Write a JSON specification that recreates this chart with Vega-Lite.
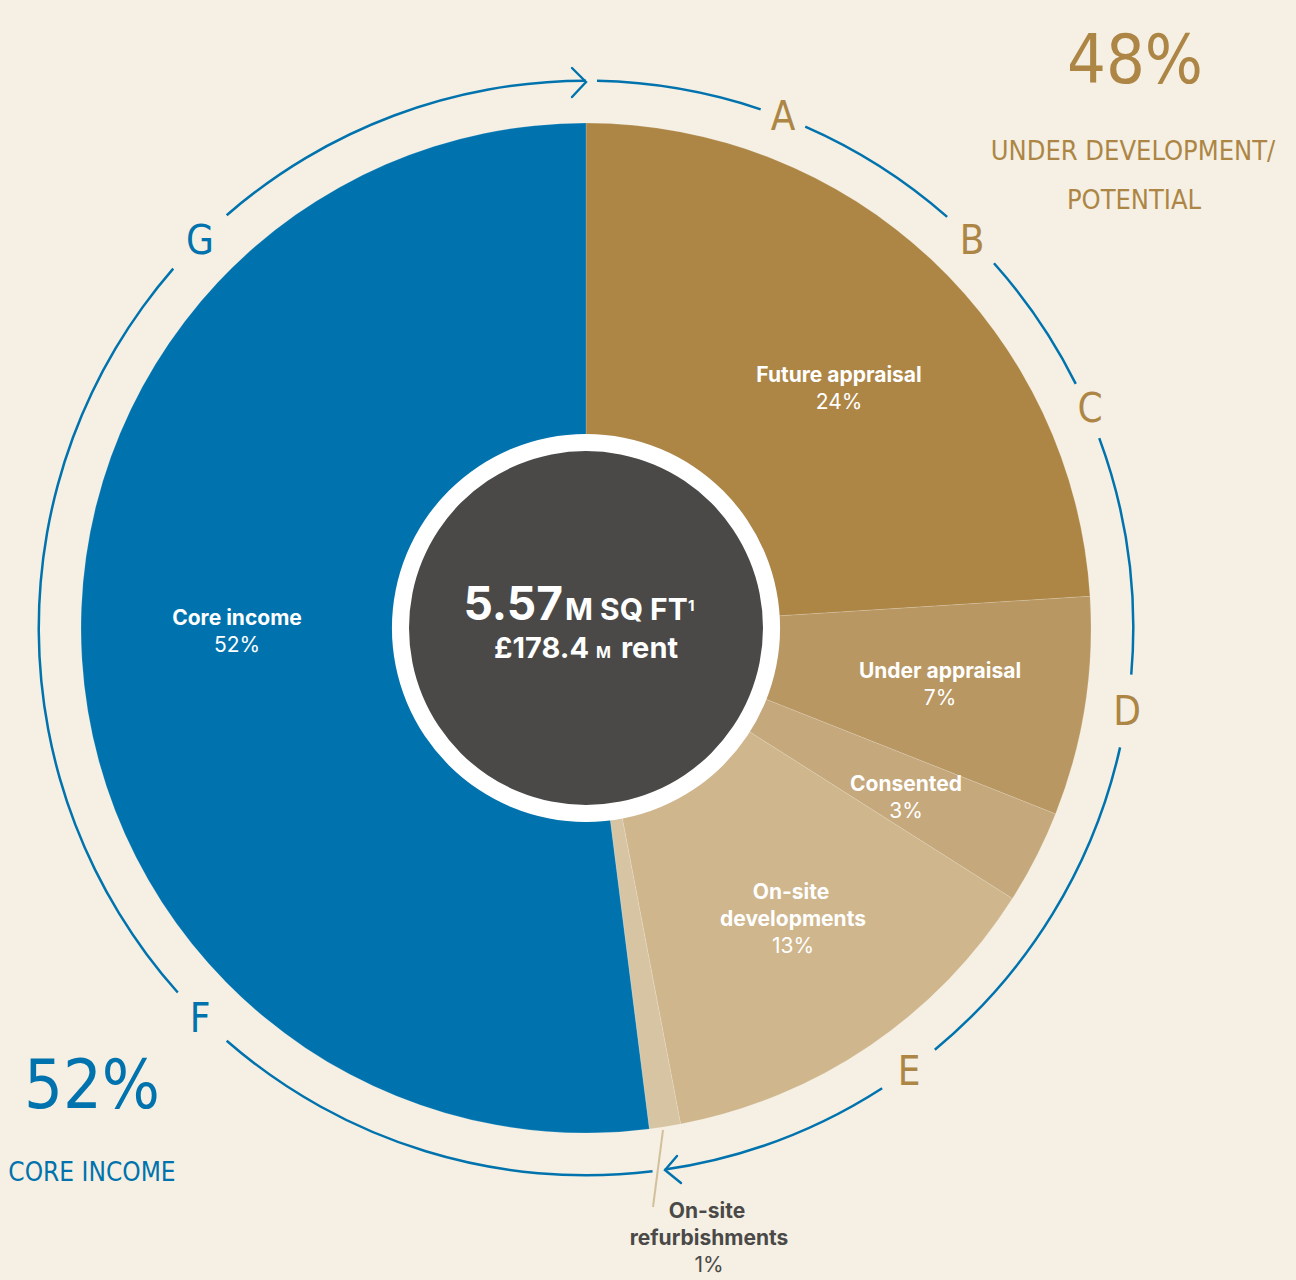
{
  "$schema": "https://vega.github.io/schema/vega-lite/v6.json",
  "width": 1172,
  "height": 1256,
  "autosize": {"type": "none"},
  "padding": {"left": 0, "top": 0, "right": 124, "bottom": 24},
  "background": "#f5f0e3",
  "config": {"view": {"stroke": null}},
  "datasets": {
    "slices": [
      {"seg": "Future appraisal", "value": 24, "ord": 1},
      {"seg": "Under appraisal", "value": 7, "ord": 2},
      {"seg": "Consented", "value": 3, "ord": 3},
      {"seg": "On-site developments", "value": 13, "ord": 4},
      {"seg": "On-site refurbishments", "value": 1, "ord": 5},
      {"seg": "Core income", "value": 52, "ord": 6}
    ],
    "ring": [
      {"t0": 0.32, "t1": 5.17}, {"t0": 6.56, "t1": 11.47}, {"t0": 13.39, "t1": 17.64},
      {"t0": 19.36, "t1": 26.36}, {"t0": 28.5, "t1": 39.0}, {"t0": 40.9, "t1": 47.7},
      {"t0": 48.06, "t1": 61.4}, {"t0": 63.4, "t1": 86.4}, {"t0": 88.6, "t1": 100}
    ],
    "full": [{"t0": 0, "t1": 100}],
    "arrows": [
      {"a": "top", "i": 1, "x": -14, "y": -560}, {"a": "top", "i": 2, "x": 0, "y": -546}, {"a": "top", "i": 3, "x": -14, "y": -531},
      {"a": "bottom", "i": 1, "x": 91, "y": 528}, {"a": "bottom", "i": 2, "x": 79, "y": 542}, {"a": "bottom", "i": 3, "x": 95, "y": 555}
    ],
    "leader": [{"i": 1, "x": 77, "y": 502}, {"i": 2, "x": 67, "y": 579}],
    "namesIn": [
      {"x": 253, "y": -252, "t": "Future appraisal"},
      {"x": 354, "y": 44, "t": "Under appraisal"},
      {"x": 320, "y": 157, "t": "Consented"},
      {"x": 205, "y": 265, "t": "On-site"},
      {"x": 207, "y": 292, "t": "developments"},
      {"x": -349, "y": -9, "t": "Core income"}
    ],
    "pctIn": [
      {"x": 253, "y": -225, "t": "24%"},
      {"x": 354, "y": 71, "t": "7%"},
      {"x": 320, "y": 184, "t": "3%"},
      {"x": 207, "y": 319, "t": "13%"},
      {"x": -349, "y": 18, "t": "52%"}
    ],
    "namesOut": [
      {"x": 121, "y": 584, "t": "On-site"},
      {"x": 123, "y": 611, "t": "refurbishments"}
    ],
    "pctOut": [{"x": 123, "y": 638, "t": "1%"}],
    "lettersDev": [
      {"x": 197, "y": -510, "t": "A"},
      {"x": 386, "y": -386, "t": "B"},
      {"x": 504, "y": -218, "t": "C"},
      {"x": 541, "y": 85, "t": "D"},
      {"x": 323, "y": 445, "t": "E"}
    ],
    "lettersCore": [
      {"x": -386, "y": 392, "t": "F"},
      {"x": -386, "y": -386, "t": "G"}
    ],
    "bigNumDev": [{"x": 549, "y": -545, "t": "48%"}],
    "bigNumCore": [{"x": -494, "y": 480, "t": "52%"}],
    "bigTextDev": [
      {"x": 547, "y": -468, "t": "UNDER DEVELOPMENT/"},
      {"x": 548, "y": -419, "t": "POTENTIAL"}
    ],
    "bigTextCore": [{"x": -494, "y": 553, "t": "CORE INCOME"}],
    "cBig": [{"x": -23, "y": -8, "t": "5.57"}],
    "cMid": [{"x": -21, "y": -8, "t": "M SQ FT"}],
    "cSup": [{"x": 102, "y": -17, "t": "1"}],
    "cRent": [{"x": 3, "y": 30, "t": "£178.4"}],
    "cM": [{"x": 10, "y": 30, "t": "M"}],
    "cRent2": [{"x": 35, "y": 30, "t": "rent"}]
  },
  "layer": [
    {
      "data": {"name": "slices"},
      "mark": {"type": "arc", "radius": 505, "radius2": 0, "stroke": "#ffffff", "strokeOpacity": 0.15, "strokeWidth": 1},
      "encoding": {
        "theta": {"field": "value", "type": "quantitative", "stack": true, "scale": {"domain": [0, 100], "range": [0, 6.283185307]}},
        "order": {"field": "ord", "type": "quantitative"},
        "color": {"field": "seg", "type": "nominal", "legend": null,
          "scale": {"domain": ["Future appraisal", "Under appraisal", "Consented", "On-site developments", "On-site refurbishments", "Core income"],
                    "range": ["#ad8646", "#b89762", "#c5a87b", "#cfb68d", "#d7c4a3", "#0073ae"]}}
      }
    },
    {
      "data": {"name": "full"},
      "mark": {"type": "arc", "radius": 194, "radius2": 0, "fill": "#ffffff"},
      "encoding": {
        "theta": {"field": "t0", "type": "quantitative", "stack": null, "scale": {"domain": [0, 100], "range": [0, 6.283185307]}},
        "theta2": {"field": "t1"}
      }
    },
    {
      "data": {"name": "full"},
      "mark": {"type": "arc", "radius": 177, "radius2": 0, "fill": "#4a4948"},
      "encoding": {
        "theta": {"field": "t0", "type": "quantitative", "stack": null, "scale": {"domain": [0, 100], "range": [0, 6.283185307]}},
        "theta2": {"field": "t1"}
      }
    },
    {
      "data": {"name": "ring"},
      "mark": {"type": "arc", "radius": 548.5, "radius2": 546, "fill": "#0073ae"},
      "encoding": {
        "theta": {"field": "t0", "type": "quantitative", "stack": null, "scale": {"domain": [0, 100], "range": [0, 6.283185307]}},
        "theta2": {"field": "t1"}
      }
    },
    {
      "data": {"name": "arrows"},
      "mark": {"type": "line", "stroke": "#0073ae", "strokeWidth": 2.4, "strokeCap": "round"},
      "encoding": {
        "x": {"field": "x", "type": "quantitative", "axis": null, "scale": {"domain": [-586, 586], "nice": false, "zero": false}},
        "y": {"field": "y", "type": "quantitative", "axis": null, "scale": {"domain": [-628, 628], "nice": false, "zero": false, "reverse": true}},
        "detail": {"field": "a"},
        "order": {"field": "i", "type": "quantitative"}
      }
    },
    {
      "data": {"name": "leader"},
      "mark": {"type": "line", "stroke": "#d3bf9c", "strokeWidth": 2},
      "encoding": {
        "x": {"field": "x", "type": "quantitative", "axis": null},
        "y": {"field": "y", "type": "quantitative", "axis": null},
        "order": {"field": "i", "type": "quantitative"}
      }
    },
    {
      "data": {"name": "namesIn"},
      "mark": {"type": "text", "font": "Inter", "fontWeight": "bold", "fontSize": 21, "fill": "#ffffff", "align": "center", "baseline": "middle"},
      "encoding": {
        "x": {"field": "x", "type": "quantitative", "axis": null},
        "y": {"field": "y", "type": "quantitative", "axis": null},
        "text": {"field": "t"}
      }
    },
    {
      "data": {"name": "pctIn"},
      "mark": {"type": "text", "font": "Inter", "fontWeight": "normal", "fontSize": 21, "fill": "#ffffff", "align": "center", "baseline": "middle"},
      "encoding": {
        "x": {"field": "x", "type": "quantitative", "axis": null},
        "y": {"field": "y", "type": "quantitative", "axis": null},
        "text": {"field": "t"}
      }
    },
    {
      "data": {"name": "namesOut"},
      "mark": {"type": "text", "font": "Inter", "fontWeight": "bold", "fontSize": 21, "fill": "#4a4948", "align": "center", "baseline": "middle"},
      "encoding": {
        "x": {"field": "x", "type": "quantitative", "axis": null},
        "y": {"field": "y", "type": "quantitative", "axis": null},
        "text": {"field": "t"}
      }
    },
    {
      "data": {"name": "pctOut"},
      "mark": {"type": "text", "font": "Inter", "fontWeight": "normal", "fontSize": 21, "fill": "#4a4948", "align": "center", "baseline": "middle"},
      "encoding": {
        "x": {"field": "x", "type": "quantitative", "axis": null},
        "y": {"field": "y", "type": "quantitative", "axis": null},
        "text": {"field": "t"}
      }
    },
    {
      "data": {"name": "lettersDev"},
      "mark": {"type": "text", "font": "Liberation Sans Narrow, DejaVu Sans Condensed, sans-serif", "fontSize": 40, "fill": "#ad8646", "align": "center", "baseline": "middle"},
      "encoding": {
        "x": {"field": "x", "type": "quantitative", "axis": null},
        "y": {"field": "y", "type": "quantitative", "axis": null},
        "text": {"field": "t"}
      }
    },
    {
      "data": {"name": "lettersCore"},
      "mark": {"type": "text", "font": "Liberation Sans Narrow, DejaVu Sans Condensed, sans-serif", "fontSize": 40, "fill": "#0073ae", "align": "center", "baseline": "middle"},
      "encoding": {
        "x": {"field": "x", "type": "quantitative", "axis": null},
        "y": {"field": "y", "type": "quantitative", "axis": null},
        "text": {"field": "t"}
      }
    },
    {
      "data": {"name": "bigNumDev"},
      "mark": {"type": "text", "font": "Liberation Sans Narrow, DejaVu Sans Condensed, sans-serif", "fontSize": 68, "fill": "#ad8646", "align": "center", "baseline": "alphabetic"},
      "encoding": {
        "x": {"field": "x", "type": "quantitative", "axis": null},
        "y": {"field": "y", "type": "quantitative", "axis": null},
        "text": {"field": "t"}
      }
    },
    {
      "data": {"name": "bigNumCore"},
      "mark": {"type": "text", "font": "Liberation Sans Narrow, DejaVu Sans Condensed, sans-serif", "fontSize": 68, "fill": "#0073ae", "align": "center", "baseline": "alphabetic"},
      "encoding": {
        "x": {"field": "x", "type": "quantitative", "axis": null},
        "y": {"field": "y", "type": "quantitative", "axis": null},
        "text": {"field": "t"}
      }
    },
    {
      "data": {"name": "bigTextDev"},
      "mark": {"type": "text", "font": "Liberation Sans Narrow, DejaVu Sans Condensed, sans-serif", "fontSize": 27, "fill": "#ad8646", "align": "center", "baseline": "alphabetic"},
      "encoding": {
        "x": {"field": "x", "type": "quantitative", "axis": null},
        "y": {"field": "y", "type": "quantitative", "axis": null},
        "text": {"field": "t"}
      }
    },
    {
      "data": {"name": "bigTextCore"},
      "mark": {"type": "text", "font": "Liberation Sans Narrow, DejaVu Sans Condensed, sans-serif", "fontSize": 26, "fill": "#0073ae", "align": "center", "baseline": "alphabetic"},
      "encoding": {
        "x": {"field": "x", "type": "quantitative", "axis": null},
        "y": {"field": "y", "type": "quantitative", "axis": null},
        "text": {"field": "t"}
      }
    },
    {
      "data": {"name": "cBig"},
      "mark": {"type": "text", "font": "Inter", "fontWeight": "bold", "fontSize": 46, "fill": "#ffffff", "align": "right", "baseline": "alphabetic"},
      "encoding": {
        "x": {"field": "x", "type": "quantitative", "axis": null},
        "y": {"field": "y", "type": "quantitative", "axis": null},
        "text": {"field": "t"}
      }
    },
    {
      "data": {"name": "cMid"},
      "mark": {"type": "text", "font": "Inter", "fontWeight": "bold", "fontSize": 30, "fill": "#ffffff", "align": "left", "baseline": "alphabetic"},
      "encoding": {
        "x": {"field": "x", "type": "quantitative", "axis": null},
        "y": {"field": "y", "type": "quantitative", "axis": null},
        "text": {"field": "t"}
      }
    },
    {
      "data": {"name": "cSup"},
      "mark": {"type": "text", "font": "Inter", "fontWeight": "bold", "fontSize": 15, "fill": "#ffffff", "align": "left", "baseline": "alphabetic"},
      "encoding": {
        "x": {"field": "x", "type": "quantitative", "axis": null},
        "y": {"field": "y", "type": "quantitative", "axis": null},
        "text": {"field": "t"}
      }
    },
    {
      "data": {"name": "cRent"},
      "mark": {"type": "text", "font": "Inter", "fontWeight": "bold", "fontSize": 29, "fill": "#ffffff", "align": "right", "baseline": "alphabetic"},
      "encoding": {
        "x": {"field": "x", "type": "quantitative", "axis": null},
        "y": {"field": "y", "type": "quantitative", "axis": null},
        "text": {"field": "t"}
      }
    },
    {
      "data": {"name": "cM"},
      "mark": {"type": "text", "font": "Inter", "fontWeight": "bold", "fontSize": 16, "fill": "#ffffff", "align": "left", "baseline": "alphabetic"},
      "encoding": {
        "x": {"field": "x", "type": "quantitative", "axis": null},
        "y": {"field": "y", "type": "quantitative", "axis": null},
        "text": {"field": "t"}
      }
    },
    {
      "data": {"name": "cRent2"},
      "mark": {"type": "text", "font": "Inter", "fontWeight": "bold", "fontSize": 29, "fill": "#ffffff", "align": "left", "baseline": "alphabetic"},
      "encoding": {
        "x": {"field": "x", "type": "quantitative", "axis": null},
        "y": {"field": "y", "type": "quantitative", "axis": null},
        "text": {"field": "t"}
      }
    }
  ]
}
